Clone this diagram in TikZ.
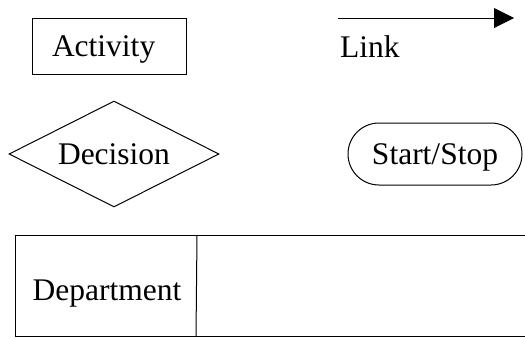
\documentclass[tikz,border=0pt]{standalone}
\usepackage{fontspec}
\setmainfont{Liberation Serif}
\usetikzlibrary{shapes.geometric,arrows.meta}
\begin{document}
\begin{tikzpicture}[x=1pt,y=-1pt,
  every node/.style={font=\fontsize{31.5}{36}\selectfont, inner sep=0pt,
    text height=21pt, text depth=0pt},
  shapeline/.style={draw=black, line width=1pt},
  activitybox/.style={shapeline, rectangle, inner xsep=20pt, text width=114pt, align=left,
    minimum width=154pt, minimum height=56pt},
  decisionbox/.style={shapeline, diamond, aspect=2, minimum width=210pt, minimum height=106pt},
  terminalbox/.style={shapeline, rectangle, rounded corners=31pt, minimum width=174pt, minimum height=62pt},
  linkarrow/.style={line width=1pt, -{Triangle[length=20pt,width=20pt]}}]
  \useasboundingbox (0,0) rectangle (525,338);

  % legend: activity and link
  \node[activitybox] (activity) at (109,46) {Activity};
  \coordinate (linkstart) at (338,18);
  \coordinate (linkend) at (514,18);
  \draw[linkarrow] (linkstart) -- (linkend);
  \node[anchor=base west, text height=, text depth=] (link) at (340,57) {Link};

  % legend: decision and terminal
  \node[decisionbox] (decision) at (114,154) {Decision};
  \node[terminalbox] (startstop) at (435,154) {Start/Stop};

  % legend: department swimlane
  \coordinate (laneTL) at (15,235);
  \coordinate (laneBL) at (15,336.5);
  \coordinate (laneTR) at (526,235);
  \coordinate (laneBR) at (526,336.5);
  \coordinate (divTop) at (197,235);
  \coordinate (divBot) at (196,336.5);
  \draw[shapeline] (laneTR) -- (laneTL) -- (laneBL) -- (laneBR);
  \draw[shapeline] (divTop) -- (divBot);
  \node[anchor=base, text height=, text depth=] (department) at (107,300) {Department};
\end{tikzpicture}
\end{document}
